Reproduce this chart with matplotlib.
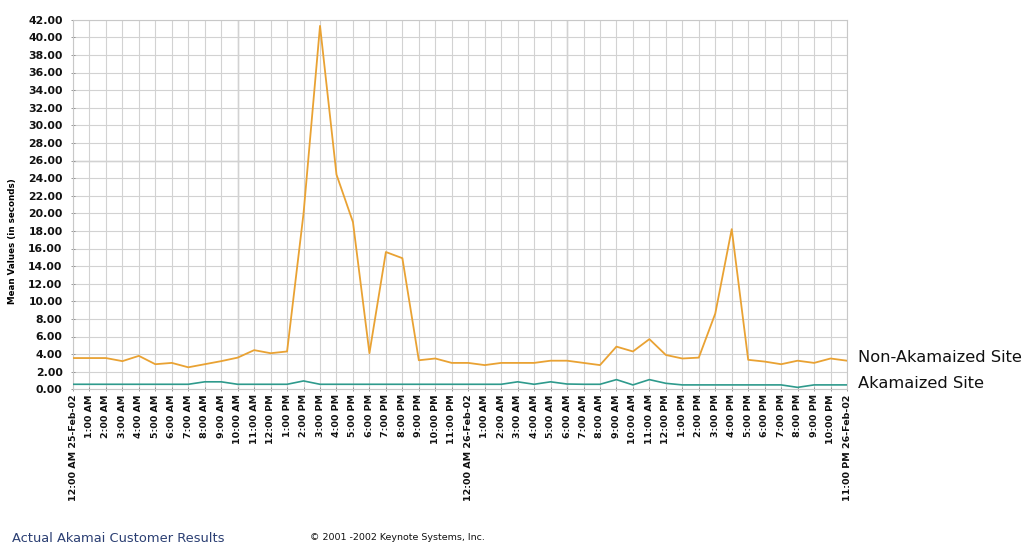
import matplotlib
matplotlib.use("Agg")
import matplotlib.pyplot as plt
import numpy as np

# ---- data ----
hour_labels = (
    ["12:00 AM 25-Feb-02"]
    + [f"{h}:00 AM" for h in range(1, 12)]
    + ["12:00 PM"]
    + [f"{h}:00 PM" for h in range(1, 12)]
    + ["12:00 AM 26-Feb-02"]
    + [f"{h}:00 AM" for h in range(1, 12)]
    + ["12:00 PM"]
    + [f"{h}:00 PM" for h in range(1, 11)]
    + ["11:00 PM 26-Feb-02"]
)

non_akamaized = [3.55, 3.55, 3.55, 3.2, 3.8, 2.85, 3.0, 2.5, 2.85, 3.2,
                 3.6, 4.45, 4.1, 4.3, 20.0, 41.3, 24.4, 19.0, 4.1, 15.6,
                 14.9, 3.3, 3.5, 3.0, 3.0, 2.75, 3.0, 3.0, 3.0, 3.25,
                 3.25, 3.0, 2.75, 4.85, 4.3, 5.7, 3.9, 3.5, 3.6, 8.6,
                 18.2, 3.35, 3.15, 2.85, 3.25, 3.0, 3.5, 3.25]

akamaized = [0.57, 0.57, 0.57, 0.57, 0.57, 0.57, 0.57, 0.57, 0.85, 0.85,
             0.57, 0.57, 0.57, 0.57, 0.95, 0.57, 0.57, 0.57, 0.57, 0.57,
             0.57, 0.57, 0.57, 0.57, 0.57, 0.57, 0.57, 0.85, 0.57, 0.85,
             0.6, 0.57, 0.57, 1.1, 0.5, 1.1, 0.68, 0.5, 0.5, 0.5,
             0.5, 0.5, 0.5, 0.5, 0.22, 0.5, 0.5, 0.5]

series_names = ["Non-Akamaized Site", "Akamaized Site"]
y_ticks = list(range(0, 44, 2))

# ---- figure ----
fig = plt.figure(figsize=(10.34, 5.48), dpi=100)
ax = fig.add_axes([73 / 1034, 1 - 389.3 / 548, (847 - 73) / 1034, (389.3 - 19.7) / 548])

x = np.arange(len(hour_labels))
ax.set_xlim(0, len(hour_labels) - 1)
ax.set_ylim(0, 42)

ax.set_xticks(x)
ax.set_xticklabels(hour_labels, rotation=90, fontsize=6.8, fontweight="bold", color="#111111")
ax.set_yticks(y_ticks)
ax.set_yticklabels([f"{v:.2f}" for v in y_ticks], fontsize=7.8, fontweight="bold", color="#111111")

ax.grid(True, color="#d2d2d2", linewidth=0.8)
ax.set_axisbelow(True)
# darker grid lines as in the reference
for xi in (10, 30):
    ax.axvline(xi, color="#999999", linewidth=0.9, zorder=0.5)
ax.axhline(26, color="#999999", linewidth=0.9, zorder=0.5)

for s in ax.spines.values():
    s.set_color("#c8c8c8")
    s.set_linewidth(0.8)
ax.tick_params(axis="both", length=3, width=0.6, color="#888888", pad=2, direction="inout")
ax.tick_params(axis="y", pad=6)

ax.plot(x, non_akamaized, color="#e9a233", linewidth=1.3, zorder=3)
ax.plot(x, akamaized, color="#2e9a8c", linewidth=1.2, zorder=3)

ax.set_ylabel("Mean Values (in seconds)", fontsize=6.3, fontweight="bold")
ax.yaxis.set_label_coords(-0.072, 0.40)

# right-side labels
fig.text(858 / 1034, 1 - 357 / 548, series_names[0], fontsize=11.7, va="center", ha="left", color="#111111")
fig.text(858 / 1034, 1 - 384 / 548, series_names[1], fontsize=11.7, va="center", ha="left", color="#111111")

# footer
fig.text(12 / 1034, 1 - 538 / 548, "Actual Akamai Customer Results", fontsize=9.4,
         va="center", ha="left", color="#2b3f73")
fig.text(310 / 1034, 1 - 538 / 548, "\u00a9 2001 -2002 Keynote Systems, Inc.", fontsize=6.8,
         va="center", ha="left", color="#111111")

fig.savefig("out.png", dpi=100)
